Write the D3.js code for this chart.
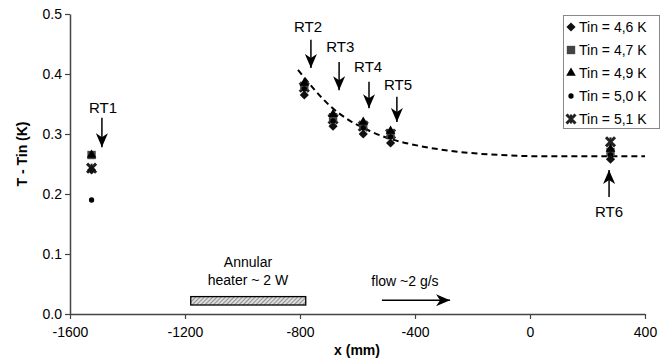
<!DOCTYPE html>
<html>
<head>
<meta charset="utf-8">
<script src="https://cdn.jsdelivr.net/npm/d3@7"></script>
<style>
  body { margin: 0; background: #fff; }
  svg { font-family: Arial, "Liberation Sans", sans-serif; }
</style>
</head>
<body>
<div id="chart"></div>
<script>
// sensor positions (mm) and names
const sensors = ['RT1', 'RT2', 'RT3', 'RT4', 'RT5', 'RT6']
const sensorX = [-1525, -785, -685, -580, -485, 280]

// T - Tin (K) for each inlet temperature
const tinLabels = ['Tin = 4,6 K', 'Tin = 4,7 K', 'Tin = 4,9 K', 'Tin = 5,0 K', 'Tin = 5,1 K']
const tin46 = [0.240, 0.365, 0.313, 0.300, 0.285, 0.258]
const tin47 = [0.265, 0.380, 0.328, 0.315, 0.300, 0.270]
const tin49 = [0.265, 0.385, 0.333, 0.320, 0.305, 0.275]
const tin50 = [0.190, 0.375, 0.322, 0.310, 0.295, 0.265]
const tin51 = [0.243, 0.378, 0.325, 0.313, 0.300, 0.287]

// dashed fit line
const fitX = [-807, -748, -696, -626, -557, -487, -383, -243, -104, 35, 400]
const fitY = [0.407, 0.373, 0.347, 0.322, 0.305, 0.292, 0.280, 0.270, 0.265, 0.263, 0.263]

// arrows above/below the sensors
const arrowX = [-1489, -762, -664, -560, -463, 275]
const arrowTail = [0.327, 0.457, 0.420, 0.387, 0.362, 0.195]
const arrowTip = [0.278, 0.410, 0.373, 0.343, 0.320, 0.240]
const labelX = [-1485, -772, -660, -563, -459, 275]
const labelY = [0.343, 0.478, 0.445, 0.412, 0.382, 0.170]

const xTicks = [-1600, -1200, -800, -400, 0, 400]
const yTicks = [0, 0.1, 0.2, 0.3, 0.4, 0.5]

const W = 662, H = 360
const x = d3.scaleLinear().domain([-1600, 400]).range([70, 645])
const y = d3.scaleLinear().domain([0, 0.5]).range([314, 14])

const svg = d3.select('#chart').append('svg')
    .attr('width', W).attr('height', H)

const defs = svg.append('defs')
defs.append('marker')
    .attr('id', 'head')
    .attr('markerUnits', 'userSpaceOnUse')
    .attr('viewBox', '0 0 14 12')
    .attr('refX', 14).attr('refY', 6)
    .attr('markerWidth', 14).attr('markerHeight', 12)
    .attr('orient', 'auto')
  .append('path')
    .attr('d', 'M0,0 L14,6 L0,12 L4,6 Z')
    .attr('fill', '#000')

const hatch = defs.append('pattern')
    .attr('id', 'hatch')
    .attr('patternUnits', 'userSpaceOnUse')
    .attr('width', 3).attr('height', 3)
    .attr('patternTransform', 'rotate(45)')
hatch.append('rect').attr('width', 3).attr('height', 3).attr('fill', '#ddd')
hatch.append('line').attr('x1', 0).attr('y1', 0).attr('x2', 0).attr('y2', 3)
    .attr('stroke', '#666').attr('stroke-width', 1.3)

// axes
const xAxis = d3.axisBottom(x).tickValues(xTicks).tickSize(5).tickSizeOuter(0)
    .tickFormat(d => String(d))
const yAxis = d3.axisLeft(y).tickValues(yTicks).tickSize(5).tickSizeOuter(0)
    .tickFormat(d3.format('.1f'))

const gx = svg.append('g').attr('transform', 'translate(0,' + y(0) + ')').call(xAxis)
const gy = svg.append('g').attr('transform', 'translate(' + x(-1600) + ',0)').call(yAxis)
for (let g of [gx, gy]) {
    g.select('.domain').attr('stroke', '#444').attr('stroke-width', 1.5)
    g.selectAll('.tick line').attr('stroke', '#444').attr('stroke-width', 1.2)
    g.selectAll('.tick text').attr('fill', '#000').attr('font-size', 14)
}
gx.selectAll('.tick text').attr('dy', '1.1em')
gy.selectAll('.tick text').attr('x', -8)

svg.append('text')
    .attr('x', 357).attr('y', 355)
    .attr('text-anchor', 'middle')
    .attr('font-size', 14).attr('font-weight', 'bold')
    .text('x (mm)')
svg.append('text')
    .attr('transform', 'translate(27,154) rotate(-90)')
    .attr('text-anchor', 'middle')
    .attr('font-size', 14).attr('font-weight', 'bold')
    .text('T - Tin (K)')

// dashed fit
const line = d3.line().x(d => x(d[0])).y(d => y(d[1])).curve(d3.curveMonotoneX)
svg.append('path')
    .datum(d3.zip(fitX, fitY))
    .attr('d', line)
    .attr('fill', 'none')
    .attr('stroke', '#000')
    .attr('stroke-width', 2)
    .attr('stroke-dasharray', '6,4')

// markers
const symbols = [
    { type: d3.symbolSquare, size: 42, rotate: 45, fill: '#111', stroke: null },
    { type: d3.symbolSquare, size: 70, rotate: 0, fill: '#444', stroke: null },
    { type: d3.symbolTriangle, size: 40, rotate: 0, fill: '#000', stroke: null },
    { type: d3.symbolCircle, size: 22, rotate: 0, fill: '#000', stroke: null },
    { type: d3.symbolTimes, size: 55, rotate: 0, fill: 'none', stroke: '#222' }
]
const series = [tin46, tin47, tin49, tin50, tin51]
const drawOrder = [4, 1, 2, 3, 0]

function drawSymbol (g, s, cx, cy) {
    let p = g.append('path')
        .attr('transform', 'translate(' + cx + ',' + cy + ') rotate(' + s.rotate + ')')
        .attr('d', d3.symbol().type(s.type).size(s.size)())
        .attr('fill', s.fill)
        .attr('stroke', s.stroke)
        .attr('stroke-width', s.stroke ? 3 : null)
    if (s.stroke) {
        // vertical bar of the star marker
        g.append('line')
            .attr('x1', cx).attr('x2', cx).attr('y1', cy - 4.5).attr('y2', cy + 4.5)
            .attr('stroke', s.stroke).attr('stroke-width', 2)
    }
}

const gm = svg.append('g')
for (let k of drawOrder) {
    series[k].forEach(function (v, i) {
        drawSymbol(gm, symbols[k], x(sensorX[i]), y(v))
    })
}

// sensor arrows and labels
sensors.forEach(function (name, i) {
    svg.append('line')
        .attr('x1', x(arrowX[i])).attr('y1', y(arrowTail[i]))
        .attr('x2', x(arrowX[i])).attr('y2', y(arrowTip[i]))
        .attr('stroke', '#000').attr('stroke-width', 1.5)
        .attr('marker-end', 'url(#head)')
    svg.append('text')
        .attr('x', x(labelX[i])).attr('y', y(labelY[i]))
        .attr('dy', '0.35em')
        .attr('text-anchor', 'middle')
        .attr('font-size', 15)
        .text(name)
})

// heater and flow
const heaterX = [-1180, -780]
const heaterY = [0.015, 0.029]
svg.append('rect')
    .attr('x', x(heaterX[0])).attr('y', y(heaterY[1]))
    .attr('width', x(heaterX[1]) - x(heaterX[0]))
    .attr('height', y(heaterY[0]) - y(heaterY[1]))
    .attr('fill', 'url(#hatch)')
    .attr('stroke', '#000').attr('stroke-width', 1.3)

svg.append('text').attr('x', x(-981)).attr('y', y(0.087)).attr('dy', '0.35em')
    .attr('text-anchor', 'middle').attr('font-size', 14).text('Annular')
svg.append('text').attr('x', x(-981)).attr('y', y(0.057)).attr('dy', '0.35em')
    .attr('text-anchor', 'middle').attr('font-size', 14).text('heater ~ 2 W')

const flowX = [-515, -278]
const flowY = 0.023
svg.append('line')
    .attr('x1', x(flowX[0])).attr('y1', y(flowY))
    .attr('x2', x(flowX[1])).attr('y2', y(flowY))
    .attr('stroke', '#000').attr('stroke-width', 1.5)
    .attr('marker-end', 'url(#head)')
svg.append('text').attr('x', x(-435)).attr('y', y(0.055)).attr('dy', '0.35em')
    .attr('text-anchor', 'middle').attr('font-size', 14).text('flow ~2 g/s')

// legend
const lg = svg.append('g')
lg.append('rect')
    .attr('x', 563.5).attr('y', 15.5).attr('width', 96).attr('height', 113)
    .attr('fill', '#fff').attr('stroke', '#888')
tinLabels.forEach(function (t, k) {
    let ly = 27 + k * 23
    drawSymbol(lg, symbols[k], 571, ly)
    lg.append('text')
        .attr('x', 579).attr('y', ly).attr('dy', '0.35em')
        .attr('font-size', 14)
        .text(t)
})
</script>
</body>
</html>
